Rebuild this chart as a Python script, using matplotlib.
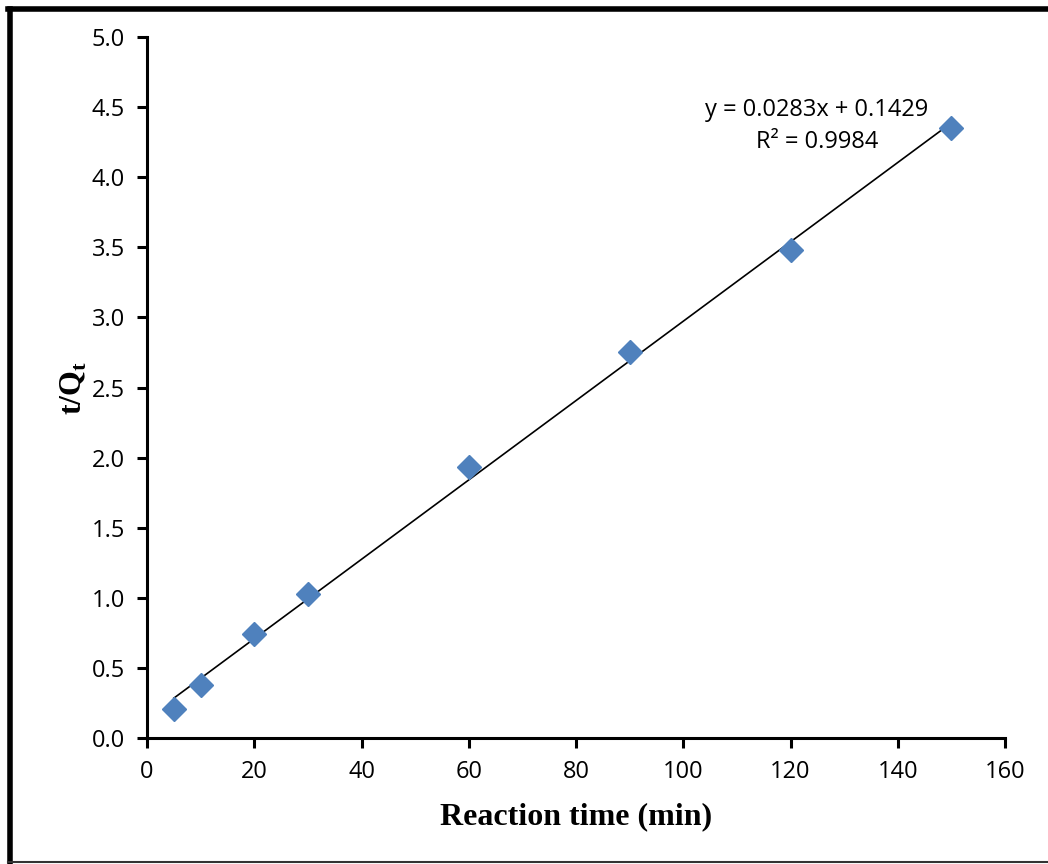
import numpy as np
import matplotlib.pyplot as plt
from matplotlib.lines import Line2D

# data
time_min = [5, 10, 20, 30, 60, 90, 120, 150]
t_over_qt = [0.21, 0.38, 0.74, 1.03, 1.93, 2.75, 3.48, 4.35]

slope = 0.0283
intercept = 0.1429
r2 = 0.9984

fig = plt.figure(figsize=(10.48, 8.64), dpi=100)
ax = fig.add_axes([0.1403, 0.1458, 0.8187, 0.8114])

# trendline over the data range
x_fit = np.array([min(time_min), max(time_min)])
ax.plot(x_fit, slope * x_fit + intercept, color="black", lw=1.2, zorder=2)
ax.plot(time_min, t_over_qt, linestyle="none", marker="D", markersize=12,
        color="#4F81BD", markeredgecolor="#4F81BD", zorder=3)

ax.set_xlim(0, 160)
ax.set_ylim(0, 5.0)
ax.set_xticks(np.arange(0, 161, 20))
ax.set_yticks(np.arange(0, 5.01, 0.5))
ax.set_yticklabels([f"{v:.1f}" for v in np.arange(0, 5.01, 0.5)])

ax.spines["top"].set_visible(False)
ax.spines["right"].set_visible(False)
for s in ["left", "bottom"]:
    ax.spines[s].set_linewidth(2.2)
ax.tick_params(direction="out", width=2.2, length=7, labelsize=17, pad=9)
for lab in ax.get_xticklabels() + ax.get_yticklabels():
    lab.set_fontfamily("Open Sans")

ax.set_xlabel("Reaction time (min)", fontsize=23, fontweight="bold",
              fontfamily="Liberation Serif", labelpad=13)
ax.set_ylabel(r"t/Q$_\mathregular{t}$", fontsize=23, fontweight="bold",
              fontfamily="Liberation Serif", labelpad=2)

ax.text(124.9, 4.48, f"y = {slope}x + {intercept}", ha="center", va="center",
        fontsize=17, fontfamily="Open Sans")
ax.text(124.9, 4.25, f"R² = {r2}", ha="center", va="center",
        fontsize=17, fontfamily="Open Sans")

# outer frame (left, top thick; bottom thin)
fig.add_artist(Line2D([0.0095, 0.0095], [0.002, 0.990], color="black", lw=4,
                      transform=fig.transFigure))
fig.add_artist(Line2D([0.0076, 1.0], [0.990, 0.990], color="black", lw=4,
                      transform=fig.transFigure))
fig.add_artist(Line2D([0.0076, 1.0], [0.0025, 0.0025], color="#333333", lw=1.5,
                      transform=fig.transFigure))

plt.savefig("out.png", dpi=100)
